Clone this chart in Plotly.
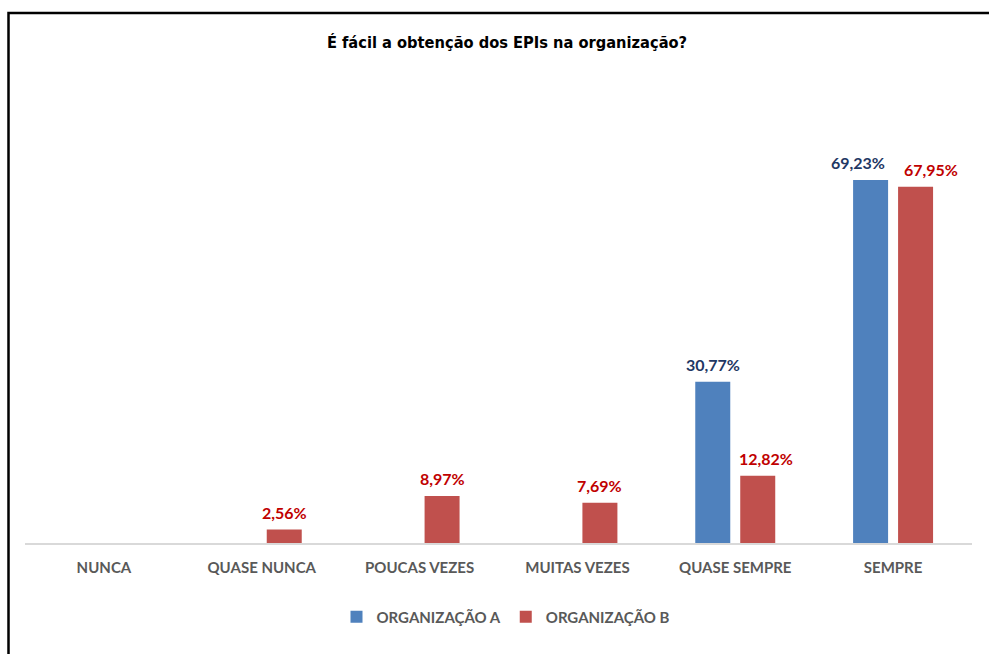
import plotly.graph_objects as go

categories = ["NUNCA", "QUASE NUNCA", "POUCAS VEZES", "MUITAS VEZES", "QUASE SEMPRE", "SEMPRE"]
org_a = [0, 0, 0, 0, 30.77, 69.23]
org_b = [0, 2.56, 8.97, 7.69, 12.82, 67.95]
series_names = ["ORGANIZAÇÃO A", "ORGANIZAÇÃO B"]
title_text = "É fácil a obtenção dos EPIs na organização?"

# label horizontal nudges (pixels) as in the original, style only
nudge_a = [0, 0, 0, 0, 0, -13]
nudge_b = [0, 0, 0, 0, 8, 15]

def fmt(v):
    return ("%.2f%%" % v).replace(".", ",")

W, H = 989, 654
L, R, T, B = 25, 17, 70, 111
pw, ph = W - L - R, H - T - B

colors = ["#4F81BD", "#C0504D"]
label_colors = ["#1F3864", "#C00000"]

fig = go.Figure()
for name, vals, col in zip(series_names, [org_a, org_b], colors):
    fig.add_trace(go.Bar(
        x=categories, y=vals, name=name,
        marker=dict(color=col, line=dict(width=0)),
        hoverinfo="skip",
    ))

annotations = []
for vals, nudges, lc, off in [(org_a, nudge_a, label_colors[0], -22.5), (org_b, nudge_b, label_colors[1], 22.5)]:
    for c, v, n in zip(categories, vals, nudges):
        if v > 0:
            annotations.append(dict(
                x=c, y=v, xref="x", yref="y", text=fmt(v), showarrow=False,
                xanchor="center", yanchor="bottom", xshift=off + n, yshift=6,
                font=dict(family="Lato", size=16, color=lc, weight="bold"),
            ))

def px_x(x):
    return (x - L) / pw

def px_y(y):
    return (H - B - y) / ph

fig.update_layout(
    width=W, height=H,
    margin=dict(l=L, r=R, t=T, b=B),
    paper_bgcolor="white", plot_bgcolor="white",
    barmode="group", bargap=0.43, bargroupgap=0.222,
    title=dict(text=title_text, x=0.5 + (507 - W / 2) / W, xanchor="center",
               y=1 - 42 / H, yanchor="middle",
               font=dict(family="Liberation Sans Narrow, DejaVu Sans Condensed, Roboto, sans-serif",
                         size=16.3, color="black", weight="bold")),
    showlegend=True,
    legend=dict(orientation="h", x=px_x(506), xanchor="center", y=px_y(617), yanchor="middle",
                font=dict(family="Lato", size=15, color="#595959", weight="bold"),
                itemwidth=30, traceorder="normal"),
    xaxis=dict(showgrid=False, showline=True, linecolor="#D9D9D9", linewidth=1.5,
               ticks="outside", ticklen=10, tickcolor="rgba(0,0,0,0)",
               tickfont=dict(family="Lato", size=15, color="#595959", weight="bold")),
    yaxis=dict(range=[0, (H - B - T) / 5.244], visible=False, showgrid=False, zeroline=False),
    annotations=annotations,
    shapes=[dict(type="rect", xref="paper", yref="paper",
                 x0=px_x(8.5), x1=px_x(W + 10), y0=px_y(H + 10), y1=px_y(13),
                 line=dict(color="black", width=2.5), fillcolor="rgba(0,0,0,0)", layer="above")],
)

fig.write_html("out.html", config={"displayModeBar": False},
               post_script="document.body.style.margin='0';")
